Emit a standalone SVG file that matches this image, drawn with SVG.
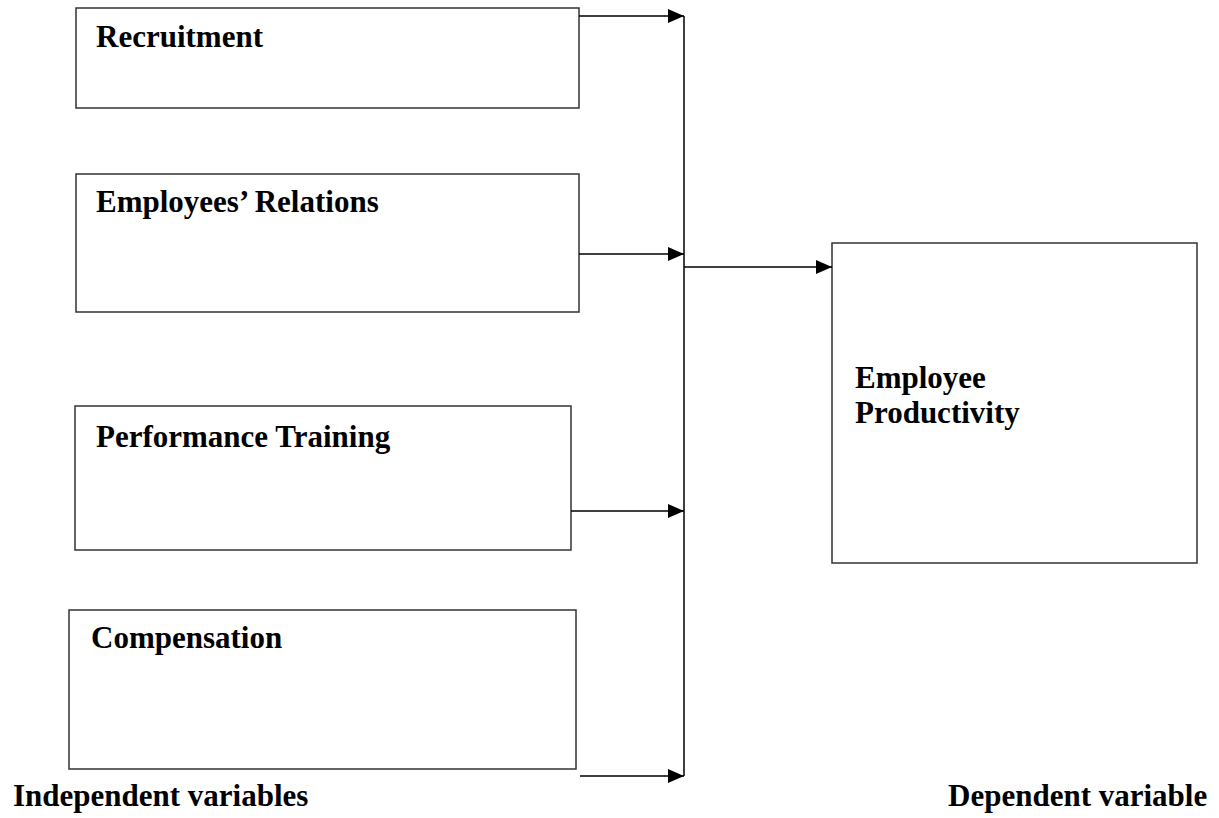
<svg xmlns="http://www.w3.org/2000/svg" width="1219" height="818" viewBox="0 0 1219 818">
<style>
.box{fill:#fff;stroke:#333;stroke-width:1.5}
.lbl{font-family:"Liberation Serif","Times New Roman",serif;font-weight:bold;font-size:31px;fill:#000}
.con{fill:none;stroke:#000;stroke-width:1.5}
</style>
<defs>
<marker id="ah" markerWidth="16" markerHeight="14" refX="16" refY="7" orient="auto" markerUnits="userSpaceOnUse">
<path d="M0,0 L16,7 L0,14 Z" fill="#000"/>
</marker>
</defs>
<rect width="1219" height="818" fill="#fff"/>
<g id="recruitment"><rect class="box" x="76" y="8" width="503" height="100"/><text class="lbl" x="96" y="47">Recruitment</text></g>
<g id="relations"><rect class="box" x="76" y="174" width="503" height="138"/><text class="lbl" x="96" y="212">Employees’ Relations</text></g>
<g id="training"><rect class="box" x="75" y="406" width="496" height="144"/><text class="lbl" x="96" y="447">Performance Training</text></g>
<g id="compensation"><rect class="box" x="69" y="610" width="507" height="159"/><text class="lbl" x="91" y="648">Compensation</text></g>
<g id="productivity"><rect class="box" x="832" y="243" width="365" height="320"/><text class="lbl"><tspan x="855" y="388">Employee</tspan><tspan x="855" y="423">Productivity</tspan></text></g>
<g id="connectors">
<line class="con" x1="579" y1="16" x2="684" y2="16" marker-end="url(#ah)"/>
<line class="con" x1="579" y1="254" x2="684" y2="254" marker-end="url(#ah)"/>
<line class="con" x1="571" y1="511" x2="684" y2="511" marker-end="url(#ah)"/>
<line class="con" x1="580" y1="776" x2="684" y2="776" marker-end="url(#ah)"/>
<line class="con" x1="684" y1="16" x2="684" y2="776"/>
<line class="con" x1="684" y1="267" x2="832" y2="267" marker-end="url(#ah)"/>
</g>
<g id="captions">
<text class="lbl" x="13" y="806">Independent variables</text>
<text class="lbl" x="948" y="806">Dependent variable</text>
</g>
</svg>
